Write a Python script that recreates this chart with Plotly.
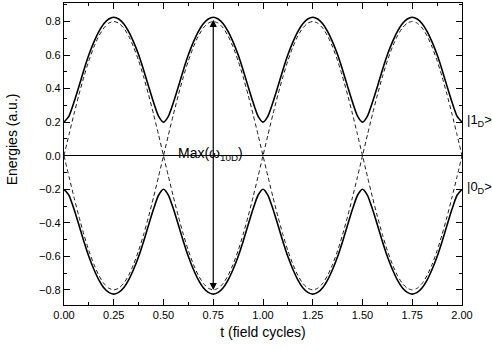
import plotly.graph_objects as go

# field cycles sampled every 0.025
t = [0.000, 0.025, 0.050, 0.075, 0.100, 0.125, 0.150, 0.175, 0.200, 0.225,
     0.250, 0.275, 0.300, 0.325, 0.350, 0.375, 0.400, 0.425, 0.450, 0.475,
     0.500, 0.525, 0.550, 0.575, 0.600, 0.625, 0.650, 0.675, 0.700, 0.725,
     0.750, 0.775, 0.800, 0.825, 0.850, 0.875, 0.900, 0.925, 0.950, 0.975,
     1.000, 1.025, 1.050, 1.075, 1.100, 1.125, 1.150, 1.175, 1.200, 1.225,
     1.250, 1.275, 1.300, 1.325, 1.350, 1.375, 1.400, 1.425, 1.450, 1.475,
     1.500, 1.525, 1.550, 1.575, 1.600, 1.625, 1.650, 1.675, 1.700, 1.725,
     1.750, 1.775, 1.800, 1.825, 1.850, 1.875, 1.900, 1.925, 1.950, 1.975,
     2.000]

upper_solid = [0.200, 0.236, 0.318, 0.413, 0.511, 0.601, 0.677, 0.740, 0.787, 0.815,
               0.825, 0.815, 0.787, 0.740, 0.677, 0.601, 0.511, 0.413, 0.318, 0.236,
               0.200, 0.236, 0.318, 0.413, 0.511, 0.601, 0.677, 0.740, 0.787, 0.815,
               0.825, 0.815, 0.787, 0.740, 0.677, 0.601, 0.511, 0.413, 0.318, 0.236,
               0.200, 0.236, 0.318, 0.413, 0.511, 0.601, 0.677, 0.740, 0.787, 0.815,
               0.825, 0.815, 0.787, 0.740, 0.677, 0.601, 0.511, 0.413, 0.318, 0.236,
               0.200, 0.236, 0.318, 0.413, 0.511, 0.601, 0.677, 0.740, 0.787, 0.815,
               0.825, 0.815, 0.787, 0.740, 0.677, 0.601, 0.511, 0.413, 0.318, 0.236,
               0.200]

lower_solid = [-0.200, -0.236, -0.318, -0.413, -0.511, -0.601, -0.677, -0.740, -0.787, -0.815,
               -0.825, -0.815, -0.787, -0.740, -0.677, -0.601, -0.511, -0.413, -0.318, -0.236,
               -0.200, -0.236, -0.318, -0.413, -0.511, -0.601, -0.677, -0.740, -0.787, -0.815,
               -0.825, -0.815, -0.787, -0.740, -0.677, -0.601, -0.511, -0.413, -0.318, -0.236,
               -0.200, -0.236, -0.318, -0.413, -0.511, -0.601, -0.677, -0.740, -0.787, -0.815,
               -0.825, -0.815, -0.787, -0.740, -0.677, -0.601, -0.511, -0.413, -0.318, -0.236,
               -0.200, -0.236, -0.318, -0.413, -0.511, -0.601, -0.677, -0.740, -0.787, -0.815,
               -0.825, -0.815, -0.787, -0.740, -0.677, -0.601, -0.511, -0.413, -0.318, -0.236,
               -0.200]

dashed_a = [0.000, 0.125, 0.247, 0.363, 0.470, 0.566, 0.647, 0.713, 0.761, 0.790,
            0.800, 0.790, 0.761, 0.713, 0.647, 0.566, 0.470, 0.363, 0.247, 0.125,
            0.000, -0.125, -0.247, -0.363, -0.470, -0.566, -0.647, -0.713, -0.761, -0.790,
            -0.800, -0.790, -0.761, -0.713, -0.647, -0.566, -0.470, -0.363, -0.247, -0.125,
            0.000, 0.125, 0.247, 0.363, 0.470, 0.566, 0.647, 0.713, 0.761, 0.790,
            0.800, 0.790, 0.761, 0.713, 0.647, 0.566, 0.470, 0.363, 0.247, 0.125,
            0.000, -0.125, -0.247, -0.363, -0.470, -0.566, -0.647, -0.713, -0.761, -0.790,
            -0.800, -0.790, -0.761, -0.713, -0.647, -0.566, -0.470, -0.363, -0.247, -0.125,
            0.000]

dashed_b = [0.000, -0.125, -0.247, -0.363, -0.470, -0.566, -0.647, -0.713, -0.761, -0.790,
            -0.800, -0.790, -0.761, -0.713, -0.647, -0.566, -0.470, -0.363, -0.247, -0.125,
            0.000, 0.125, 0.247, 0.363, 0.470, 0.566, 0.647, 0.713, 0.761, 0.790,
            0.800, 0.790, 0.761, 0.713, 0.647, 0.566, 0.470, 0.363, 0.247, 0.125,
            0.000, -0.125, -0.247, -0.363, -0.470, -0.566, -0.647, -0.713, -0.761, -0.790,
            -0.800, -0.790, -0.761, -0.713, -0.647, -0.566, -0.470, -0.363, -0.247, -0.125,
            0.000, 0.125, 0.247, 0.363, 0.470, 0.566, 0.647, 0.713, 0.761, 0.790,
            0.800, 0.790, 0.761, 0.713, 0.647, 0.566, 0.470, 0.363, 0.247, 0.125,
            0.000]

arrow_t = 0.75
arrow_top = 0.81
arrow_bottom = -0.81

x_ticks = [0.0, 0.25, 0.5, 0.75, 1.0, 1.25, 1.5, 1.75, 2.0]
y_ticks = [-0.8, -0.6, -0.4, -0.2, 0.0, 0.2, 0.4, 0.6, 0.8]

FONT = "Liberation Sans, Arial, sans-serif"

fig = go.Figure()
for ys in (dashed_a, dashed_b):
    fig.add_trace(go.Scatter(x=t, y=ys, mode="lines",
                             line=dict(color="black", width=0.9, dash="4px,3px",
                                       shape="spline", smoothing=0.6),
                             showlegend=False, hoverinfo="skip"))
for ys in (upper_solid, lower_solid):
    fig.add_trace(go.Scatter(x=t, y=ys, mode="lines",
                             line=dict(color="black", width=1.6, shape="spline", smoothing=0.6),
                             showlegend=False, hoverinfo="skip"))

fig.add_annotation(x=arrow_t, y=arrow_top, ax=arrow_t, ay=arrow_bottom,
                   xref="x", yref="y", axref="x", ayref="y", text="",
                   showarrow=True, arrowhead=2, startarrowhead=2, arrowside="end+start",
                   arrowsize=1.2, arrowwidth=1.2, arrowcolor="black")

fig.add_annotation(x=arrow_t, y=0.0, xref="x", yref="y", text="Max(ω<sub>10D</sub>)",
                   showarrow=False, xanchor="center", yanchor="bottom", yshift=-9, xshift=-3,
                   font=dict(family=FONT, size=14, color="black"))

fig.add_annotation(x=1.008, y=0.21, xref="paper", yref="y", text="|1<sub>D</sub>>",
                   showarrow=False, xanchor="left", yanchor="middle",
                   font=dict(family=FONT, size=13, color="black"))
fig.add_annotation(x=1.008, y=-0.19, xref="paper", yref="y", text="|0<sub>D</sub>>",
                   showarrow=False, xanchor="left", yanchor="middle",
                   font=dict(family=FONT, size=13, color="black"))

fig.add_annotation(x=-0.132, y=0.1, xref="paper", yref="y", text="Energies (a.u.)",
                   showarrow=False, textangle=-90, xanchor="center", yanchor="middle",
                   font=dict(family=FONT, size=14, color="black"))

fig.update_xaxes(range=[0, 2], tickvals=x_ticks, tickformat=".2f",
                 ticks="inside", ticklen=6, tickwidth=1, tickcolor="black",
                 minor=dict(dtick=0.125, tick0=0, ticks="inside", ticklen=3, tickcolor="black"),
                 showline=True, linecolor="black", linewidth=1.2, mirror="allticks",
                 showgrid=False, zeroline=False,
                 title=dict(text="t (field cycles)", font=dict(family=FONT, size=14, color="black"), standoff=6),
                 tickfont=dict(family=FONT, size=11, color="black"))
fig.update_yaxes(range=[-0.89, 0.91], tickvals=y_ticks, tickformat=".1f",
                 ticks="inside", ticklen=6, tickwidth=1, tickcolor="black",
                 minor=dict(dtick=0.1, tick0=0, ticks="inside", ticklen=3, tickcolor="black"),
                 showline=True, linecolor="black", linewidth=1.2, mirror="allticks",
                 showgrid=False, zeroline=True, zerolinecolor="black", zerolinewidth=1,
                 tickfont=dict(family=FONT, size=11, color="black"))

fig.update_layout(width=492, height=349, margin=dict(l=64, r=30, t=3, b=44),
                  paper_bgcolor="white", plot_bgcolor="white",
                  font=dict(family=FONT, color="black"))

fig.write_html("out.html")
